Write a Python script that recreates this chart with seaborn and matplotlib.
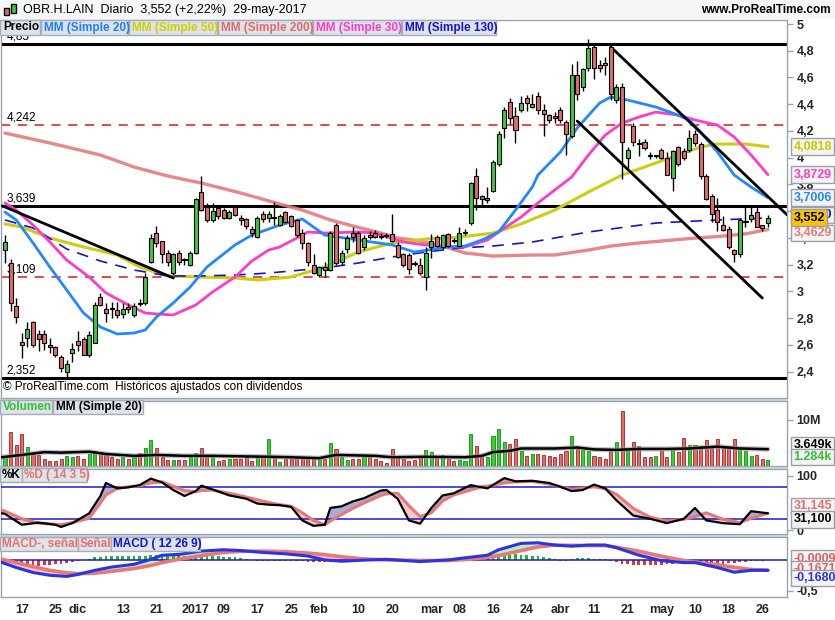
import numpy as np
import pandas as pd
import matplotlib
matplotlib.use("Agg")
import matplotlib.pyplot as plt
import seaborn as sns
from matplotlib.patches import Rectangle

sns.set_style("white")
plt.rcParams['font.family'] = ['Liberation Sans', 'DejaVu Sans']

# ---------------- data ----------------
trade_start, trade_end = "2016-11-14", "2017-05-29"
market_holidays = ["2016-12-26", "2017-04-14", "2017-04-17", "2017-05-01"]

open_ = [3.31, 3.21, 2.89, 2.62, 2.65, 2.77, 2.68, 2.68, 2.595, 2.58,
         2.51, 2.40, 2.54, 2.63, 2.64, 2.52, 2.61, 2.96, 2.87, 2.875,
         2.86, 2.83, 2.885, 2.82, 2.915, 2.91, 3.22, 3.44, 3.38, 3.29,
         3.14, 3.29, 3.245, 3.20, 3.29, 3.74, 3.63, 3.53, 3.62, 3.61,
         3.55, 3.63, 3.55, 3.54, 3.47, 3.41, 3.58, 3.55, 3.555, 3.50,
         3.59, 3.56, 3.53, 3.44, 3.36, 3.20, 3.12, 3.18, 3.16, 3.50,
         3.22, 3.32, 3.44, 3.44, 3.33, 3.42, 3.44, 3.415, 3.425, 3.43,
         3.35, 3.28, 3.27, 3.215, 3.20, 3.11, 3.33, 3.41, 3.33, 3.43,
         3.385, 3.34, 3.435, 3.51, 3.86, 3.71, 3.685, 3.75, 3.95, 4.22,
         4.42, 4.31, 4.36, 4.45, 4.38, 4.46, 4.36, 4.32, 4.31, 4.36,
         4.27, 4.16, 4.62, 4.53, 4.67, 4.83, 4.69, 4.705, 4.83, 4.43,
         4.53, 4.00, 4.24, 4.105, 4.12, 4.02, 4.01, 4.06, 4.00, 3.85,
         4.08, 4.05, 4.06, 4.18, 4.10, 3.86, 3.71, 3.61, 3.50, 3.47,
         3.31, 3.28, 3.52, 3.54, 3.59, 3.50, 3.51]
high = [3.42, 3.24, 2.95, 2.69, 2.77, 2.78, 2.71, 2.71, 2.65, 2.59,
        2.52, 2.49, 2.61, 2.70, 2.66, 2.70, 2.92, 2.99, 2.91, 2.92,
        2.92, 2.91, 2.91, 2.91, 2.94, 3.14, 3.43, 3.49, 3.38, 3.31,
        3.29, 3.31, 3.25, 3.30, 3.70, 3.86, 3.66, 3.66, 3.64, 3.62,
        3.61, 3.64, 3.57, 3.55, 3.49, 3.56, 3.60, 3.60, 3.67, 3.58,
        3.60, 3.57, 3.54, 3.47, 3.37, 3.28, 3.19, 3.22, 3.45, 3.51,
        3.31, 3.42, 3.48, 3.45, 3.42, 3.45, 3.46, 3.44, 3.44, 3.58,
        3.37, 3.29, 3.29, 3.23, 3.25, 3.33, 3.43, 3.42, 3.43, 3.44,
        3.40, 3.48, 3.47, 3.82, 3.92, 3.72, 3.78, 3.98, 4.20, 4.38,
        4.45, 4.38, 4.46, 4.47, 4.48, 4.49, 4.40, 4.33, 4.34, 4.38,
        4.28, 4.70, 4.72, 4.67, 4.89, 4.86, 4.73, 4.75, 4.83, 4.55,
        4.56, 4.08, 4.26, 4.14, 4.14, 4.04, 4.02, 4.07, 4.04, 4.06,
        4.09, 4.07, 4.21, 4.21, 4.12, 3.88, 3.73, 3.70, 3.56, 3.49,
        3.32, 3.54, 3.63, 3.63, 3.63, 3.50, 3.57]
low = [3.21, 2.85, 2.76, 2.50, 2.58, 2.58, 2.55, 2.56, 2.54, 2.51,
       2.40, 2.35, 2.47, 2.55, 2.52, 2.51, 2.61, 2.89, 2.77, 2.80,
       2.80, 2.80, 2.84, 2.81, 2.89, 2.90, 3.21, 3.33, 3.21, 3.19,
       3.12, 3.20, 3.20, 3.19, 3.28, 3.60, 3.52, 3.52, 3.54, 3.54,
       3.54, 3.56, 3.50, 3.47, 3.41, 3.40, 3.52, 3.52, 3.50, 3.49,
       3.51, 3.48, 3.41, 3.32, 3.19, 3.13, 3.11, 3.11, 3.15, 3.20,
       3.20, 3.29, 3.37, 3.28, 3.31, 3.39, 3.40, 3.39, 3.40, 3.37,
       3.25, 3.18, 3.13, 3.19, 3.12, 3.01, 3.25, 3.33, 3.32, 3.33,
       3.36, 3.33, 3.42, 3.50, 3.61, 3.63, 3.66, 3.74, 3.94, 4.15,
       4.25, 4.11, 4.34, 4.35, 4.37, 4.33, 4.16, 4.26, 4.26, 4.26,
       4.02, 4.15, 4.43, 4.50, 4.65, 4.59, 4.64, 4.62, 4.43, 4.41,
       3.84, 3.92, 4.09, 4.01, 4.06, 3.99, 4.00, 3.99, 3.87, 3.75,
       3.94, 3.98, 4.04, 4.09, 3.84, 3.68, 3.52, 3.45, 3.45, 3.32,
       3.22, 3.26, 3.48, 3.52, 3.48, 3.45, 3.48]
close = [3.37, 2.91, 2.81, 2.60, 2.72, 2.60, 2.64, 2.61, 2.585, 2.52,
         2.43, 2.46, 2.57, 2.60, 2.52, 2.67, 2.90, 2.90, 2.84, 2.865,
         2.82, 2.87, 2.87, 2.89, 2.905, 3.11, 3.40, 3.36, 3.28, 3.22,
         3.28, 3.22, 3.235, 3.29, 3.69, 3.61, 3.53, 3.60, 3.56, 3.55,
         3.59, 3.57, 3.53, 3.49, 3.44, 3.55, 3.54, 3.58, 3.545, 3.56,
         3.52, 3.49, 3.42, 3.36, 3.22, 3.14, 3.18, 3.16, 3.44, 3.21,
         3.29, 3.40, 3.41, 3.29, 3.40, 3.41, 3.41, 3.405, 3.415, 3.38,
         3.26, 3.20, 3.17, 3.205, 3.14, 3.29, 3.38, 3.34, 3.42, 3.34,
         3.375, 3.44, 3.445, 3.81, 3.70, 3.69, 3.695, 3.97, 4.18, 4.36,
         4.30, 4.21, 4.41, 4.41, 4.40, 4.36, 4.33, 4.28, 4.30, 4.28,
         4.18, 4.62, 4.48, 4.66, 4.82, 4.67, 4.67, 4.695, 4.48, 4.53,
         4.12, 4.06, 4.12, 4.10, 4.07, 4.01, 4.02, 4.00, 3.87, 4.05,
         3.95, 4.00, 4.15, 4.11, 3.86, 3.69, 3.58, 3.52, 3.46, 3.33,
         3.28, 3.53, 3.525, 3.57, 3.48, 3.475, 3.552]
volume_m = [1.85, 7.3, 4.6, 7.0, 4.2, 2.6, 2.4, 1.5, 1.1, 1.1,
            1.6, 2.1, 1.9, 2.1, 1.5, 2.6, 3.3, 2.8, 2.8, 1.9,
            1.6, 1.9, 1.5, 1.9, 2.8, 3.9, 5.6, 3.9, 1.9, 1.3,
            1.3, 1.3, 1.3, 1.9, 2.8, 3.9, 2.4, 2.2, 1.1, 1.3,
            1.5, 1.5, 1.6, 1.9, 1.1, 1.9, 1.9, 5.8, 1.9, 0.9,
            1.5, 1.6, 1.9, 1.9, 1.9, 1.9, 1.5, 1.6, 5.0, 3.6,
            1.9, 1.3, 1.5, 1.5, 1.9, 2.1, 1.5, 1.1, 0.7, 3.7,
            1.9, 1.5, 1.1, 1.3, 1.9, 3.5, 3.1, 1.9, 2.4, 1.6,
            1.1, 1.3, 1.1, 7.0, 4.4, 1.9, 2.0, 6.5, 8.1, 5.2,
            4.8, 5.8, 3.3, 2.2, 2.6, 2.6, 2.4, 2.2, 1.9, 2.6,
            3.3, 6.4, 3.7, 3.5, 3.3, 2.2, 1.9, 1.5, 3.3, 5.3,
            12.0, 3.7, 5.2, 4.4, 1.9, 2.0, 2.2, 3.3, 2.0, 3.9,
            3.0, 6.1, 4.6, 4.6, 4.4, 5.7, 4.1, 5.9, 4.1, 3.9,
            5.9, 3.7, 3.3, 2.2, 2.4, 1.6, 1.284]

# moving averages (bar index, value)
ma20_pos = [0, 2, 5, 8, 11, 14, 17, 20, 23, 25, 27, 30, 33, 36, 41, 44, 49, 53, 55, 57,
            63, 69, 73, 79, 82, 85, 88, 91, 94, 95, 99, 102, 106, 108, 111, 116, 119, 122,
            124, 127, 130, 133, 136]
ma20_val = [3.593, 3.534, 3.362, 3.182, 3.010, 2.838, 2.733, 2.681, 2.688, 2.711, 2.808,
            2.913, 3.032, 3.182, 3.347, 3.421, 3.496, 3.541, 3.481, 3.421, 3.384, 3.347,
            3.294, 3.332, 3.339, 3.384, 3.444, 3.608, 3.780, 3.870, 4.042, 4.222, 4.409,
            4.454, 4.431, 4.379, 4.334, 4.282, 4.192, 4.042, 3.870, 3.780, 3.7006]
ma30_pos = [0, 2, 5, 8, 11, 15, 18, 22, 25, 27, 30, 34, 37, 41, 44, 47, 49, 53, 54, 57,
            63, 66, 71, 75, 80, 82, 86, 88, 92, 95, 101, 104, 107, 110, 113, 116, 120,
            123, 127, 130, 133, 136]
ma30_val = [3.661, 3.608, 3.496, 3.369, 3.234, 3.107, 2.988, 2.898, 2.838, 2.831, 2.823,
            2.898, 2.995, 3.107, 3.227, 3.309, 3.332, 3.421, 3.444, 3.436, 3.444, 3.436,
            3.369, 3.347, 3.332, 3.332, 3.384, 3.444, 3.556, 3.661, 3.855, 4.020, 4.169,
            4.259, 4.304, 4.341, 4.319, 4.282, 4.244, 4.154, 4.020, 3.8729]
ma50_pos = [0, 3, 8, 14, 20, 24, 29, 35, 41, 45, 51, 57, 63, 69, 75, 81, 87, 92, 98,
            104, 110, 116, 120, 124, 127, 132, 136]
ma50_val = [3.504, 3.481, 3.399, 3.332, 3.272, 3.182, 3.115, 3.107, 3.100, 3.085, 3.107,
            3.182, 3.294, 3.362, 3.391, 3.406, 3.436, 3.504, 3.608, 3.743, 3.870, 3.960,
            4.020, 4.080, 4.102, 4.102, 4.0818]
ma130_pos = [0, 5, 11, 17, 23, 29, 35, 41, 47, 57, 63, 69, 75, 81, 87, 94, 104, 116, 127, 136]
ma130_val = [3.534, 3.474, 3.317, 3.227, 3.160, 3.115, 3.115, 3.122, 3.137, 3.175, 3.212,
             3.257, 3.294, 3.324, 3.339, 3.369, 3.444, 3.511, 3.534, 3.549]
ma200_pos = [0, 8, 17, 23, 29, 35, 42, 49, 53, 58, 62, 67, 70, 74, 78, 82, 87, 94, 98,
             104, 108, 113, 118, 122, 127, 132, 136]
ma200_val = [4.184, 4.110, 4.020, 3.930, 3.863, 3.810, 3.736, 3.653, 3.608, 3.534, 3.489,
             3.436, 3.399, 3.377, 3.339, 3.287, 3.264, 3.272, 3.272, 3.309, 3.339, 3.362,
             3.380, 3.395, 3.410, 3.430, 3.4629]

# support / resistance levels and trend lines
level_solid = [4.85, 3.639, 2.352]
level_dashed = [4.242, 3.109]
trend_lines = [((-0.5, 3.64), (30, 3.10)),
               ((108, 4.828), (139.4, 3.573)),
               ((102, 4.274), (135, 2.95))]

# volume moving average 20
vma_pos = [-1, 3, 7, 10, 15, 18, 23, 27, 32, 37, 42, 47, 51, 56, 59, 66, 69, 75, 82,
           85, 87, 90, 92, 98, 102, 105, 109, 113, 118, 122, 127, 131, 136]
vma_val = [1.85, 2.4, 3.0, 2.9, 3.1, 2.6, 2.2, 2.4, 2.2, 2.2, 2.1, 2.0, 1.9, 1.7, 2.4,
           2.2, 1.9, 2.0, 1.9, 2.2, 3.0, 3.3, 3.8, 3.8, 4.0, 3.6, 3.5, 3.7, 3.7, 3.8,
           4.2, 3.8, 3.649]

# stochastic %K / %D (14 3 5)
sto_pos = [-1, 0, 3, 6, 9, 10, 12, 15, 17, 18, 20, 22, 24, 26, 28, 30, 32, 34, 35, 37,
           40, 43, 45, 47, 49, 51, 53, 55, 57, 58, 60, 62, 64, 67, 68, 70, 72, 74, 76,
           78, 80, 83, 85, 86, 89, 91, 94, 97, 99, 101, 103, 105, 107, 109, 112, 115,
           118, 121, 123, 125, 128, 131, 133, 136]
sto_k = [32, 30, 10, 14, 10, 6, 13, 31, 63, 87, 77, 79, 83, 95, 88, 74, 63, 72, 82, 75,
         64, 58, 49, 47, 46, 43, 18, 8, 10, 41, 44, 53, 59, 73, 74, 58, 18, 12, 41,
         64, 68, 83, 79, 77, 96, 90, 91, 87, 80, 72, 74, 84, 77, 55, 27, 21,
         13, 21, 41, 18, 13, 11, 35, 31.1]
sto_d = [38, 35, 21, 13, 11, 10, 14, 22, 50, 65, 77, 80, 82, 87, 89, 81, 73, 71, 73, 74,
         68, 61, 56, 51, 47, 44, 32, 18, 10, 17, 29, 40, 50, 64, 67, 68, 45, 25, 32,
         54, 65, 74, 80, 81, 87, 89, 90, 85, 80, 75, 77, 80, 76, 66, 40, 24,
         17, 20, 25, 32, 20, 14, 22, 31.145]

# MACD (12 26 9)
macd_pos = [-1, 2, 5, 8, 11, 13, 16, 19, 23, 26, 28, 31, 35, 39, 42, 46, 50, 54, 57, 60,
            64, 68, 74, 79, 83, 86, 88, 92, 95, 98, 101, 104, 107, 109, 113, 117, 121,
            123, 127, 130, 133, 136]
macd_line = [-0.027, -0.124, -0.204, -0.249, -0.267, -0.236, -0.169, -0.116, -0.071, 0.009,
             0.076, 0.089, 0.142, 0.164, 0.151, 0.120, 0.098, 0.062, 0.0, -0.022,
             -0.004, 0.009, -0.027, 0.0, 0.044, 0.076, 0.164, 0.267, 0.276, 0.240,
             0.222, 0.240, 0.240, 0.196, 0.076, -0.013, -0.044, -0.044, -0.124, -0.200,
             -0.169, -0.168]
macd_signal = [0.018, -0.044, -0.11, -0.17, -0.21, -0.222, -0.215, -0.185, -0.14, -0.09,
               -0.044, 0.01, 0.07, 0.12, 0.138, 0.142, 0.133, 0.11, 0.085, 0.05,
               0.015, 0.0, -0.01, -0.01, 0.012, 0.04, 0.07, 0.15, 0.21, 0.238,
               0.235, 0.231, 0.231, 0.205, 0.14, 0.06, -0.01, -0.035, -0.08, -0.12,
               -0.155, -0.1671]
macd_hist = [-0.03, -0.05, -0.07, -0.08, -0.09, -0.10, -0.10, -0.09, -0.08, -0.07,
             -0.06, -0.05, -0.04, -0.02, -0.005, 0.02, 0.04, 0.05, 0.06, 0.065,
             0.065, 0.065, 0.065, 0.065, 0.07, 0.07, 0.08, 0.08, 0.085, 0.085,
             0.08, 0.075, 0.07, 0.07, 0.07, 0.07, 0.065, 0.06, 0.06, 0.05,
             0.05, 0.04, 0.03, 0.02, 0.005, -0.01, -0.01, -0.015, -0.015, -0.015,
             -0.02, -0.02, -0.02, -0.025, -0.03, -0.035, -0.04, -0.04, -0.035, -0.03,
             -0.02, -0.015, -0.01, -0.01, -0.005, -0.005, 0.0, -0.005, -0.005, -0.005,
             -0.01, -0.01, -0.01, -0.005, -0.005, 0.0, 0.005, 0.01, 0.01, 0.015,
             0.015, 0.02, 0.02, 0.03, 0.04, 0.045, 0.05, 0.06, 0.07, 0.08,
             0.085, 0.09, 0.085, 0.08, 0.07, 0.06, 0.05, 0.03, 0.02, -0.01,
             -0.02, 0.02, 0.025, 0.03, 0.025, 0.02, 0.015, 0.01, -0.02, -0.04,
             -0.06, -0.07, -0.08, -0.085, -0.09, -0.09, -0.085, -0.08, -0.07, -0.06,
             -0.055, -0.05, -0.06, -0.065, -0.07, -0.07, -0.075, -0.07, -0.06, -0.05,
             -0.045, -0.04, -0.03, -0.02, -0.015, -0.01, -0.0009]

tick_dates = ["2016-11-17", "2016-11-25", "2016-12-01", "2016-12-13", "2016-12-21",
              "2017-01-02", "2017-01-09", "2017-01-17", "2017-01-25", "2017-02-01",
              "2017-02-10", "2017-02-20", "2017-03-01", "2017-03-08", "2017-03-16",
              "2017-03-24", "2017-04-03", "2017-04-11", "2017-04-21", "2017-05-02",
              "2017-05-10", "2017-05-18", "2017-05-26"]
tick_labels = ["17", "25", "dic", "13", "21", "2017", "09", "17", "25", "feb", "10", "20",
               "mar", "08", "16", "24", "abr", "11", "21", "may", "10", "18", "26"]
price_ticks = [2.4, 2.6, 2.8, 3.0, 3.2, 3.4, 3.6, 3.8, 4.0, 4.2, 4.4, 4.6, 4.8, 5.0]

# ---------------- helpers ----------------
W, H = 835, 620
dates = pd.bdate_range(trade_start, trade_end)
dates = dates[~dates.isin(pd.to_datetime(market_holidays))]
n = len(close)
idx = np.arange(n)
o = np.array(open_); c = np.array(close); hi = np.array(high); lo = np.array(low)
up = c >= o
tick_pos = [int(np.where(dates == pd.Timestamp(d))[0][0]) for d in tick_dates]

fig = plt.figure(figsize=(W / 100, H / 100), dpi=100, facecolor='white')

def px_axes(x0, y0, x1, y1):
    return fig.add_axes([x0 / W, 1 - y1 / H, (x1 - x0) / W, (y1 - y0) / H])

def fmt(v, d):
    return f"{v:.{d}f}".replace('.', ',')

XL = (-0.71, 139.4)
EDGE = '#9AA4AE'
GREEN = '#3CCB3C'
RED = '#E26A6A'

for (ya, yb) in [(398, 401), (466, 469), (534, 537)]:
    fig.patches.append(Rectangle((0, 1 - yb / H), 788 / W, (yb - ya) / H, transform=fig.transFigure,
                                 facecolor='#D3D9DF', edgecolor='none', zorder=-5))

def style_axes(ax):
    ax.set_xlim(*XL)
    for s in ax.spines.values():
        s.set_color(EDGE)
        s.set_linewidth(1)
    ax.yaxis.tick_right()
    ax.tick_params(axis='y', which='both', direction='out', length=4, width=1, color=EDGE,
                   labelsize=9, pad=3)
    ax.set_xticks([])
    ax.set_facecolor('white')

# ---------------- price panel ----------------
ax = px_axes(1, 20, 787, 398)
ax.set_ylim(2.202, 5.03)
style_axes(ax)
ax.set_yticks(price_ticks)
ax.set_yticklabels([fmt(v, 0) if abs(v - round(v)) < 1e-9 else fmt(v, 1) for v in price_ticks],
                   fontweight='bold', fontsize=9)

for lv in level_solid:
    ax.axhline(lv, color='black', lw=2.2, zorder=2)
for lv in level_dashed:
    ax.axhline(lv, color='#E01818', lw=1.1, dashes=(6, 5), zorder=2)
for lv, t in zip(level_solid + level_dashed, ["4,85", "3,639", "2,352", "4,242", "3,109"]):
    ax.text(0.3, lv + 0.012, t, fontsize=8.5, ha='left', va='bottom', color='black', zorder=6)

sns.lineplot(x=ma200_pos, y=ma200_val, ax=ax, color='#E57B7B', linewidth=2.4, alpha=0.9, legend=False, zorder=3)
sns.lineplot(x=ma50_pos, y=ma50_val, ax=ax, color='#CDCD12', linewidth=2.2, legend=False, zorder=3)
sns.lineplot(x=ma130_pos, y=ma130_val, ax=ax, color='#1414CC', linewidth=1.2, legend=False, zorder=3)
ax.lines[-1].set_dashes([7, 5])
sns.lineplot(x=ma30_pos, y=ma30_val, ax=ax, color='#FF3CC8', linewidth=2.0, legend=False, zorder=3)
sns.lineplot(x=ma20_pos, y=ma20_val, ax=ax, color='#2288FF', linewidth=2.0, legend=False, zorder=3)

for (p0, p1) in trend_lines:
    ax.plot([p0[0], p1[0]], [p0[1], p1[1]], color='black', lw=2.0, zorder=4)

# candles
ax.vlines(idx, lo, hi, color='black', lw=1.0, zorder=5)
body_bot = np.minimum(o, c)
body_h = np.maximum(np.abs(c - o), 0.008)
ax.bar(idx, body_h, bottom=body_bot, width=0.72, color=np.where(up, GREEN, RED),
       edgecolor='black', linewidth=0.8, zorder=6)

ax.text(0.003, 0.012, "© ProRealTime.com  Históricos ajustados con dividendos", transform=ax.transAxes,
        fontsize=8.5, ha='left', va='bottom', color='black')

# value boxes on the right
def vbox(axis, yval, text, tcolor, fc='#F4F4F4', ec='#9AA0A6', z=10):
    axis.text(1.0085, yval, text, transform=axis.get_yaxis_transform(), ha='left', va='center',
              fontsize=9, fontweight='bold', color=tcolor, clip_on=False, zorder=z,
              bbox=dict(boxstyle='square,pad=0.18', fc=fc, ec=ec, lw=1))

vbox(ax, ma50_val[-1], fmt(ma50_val[-1], 4), '#C9C900')
vbox(ax, ma30_val[-1], fmt(ma30_val[-1], 4), '#FF3CC8')
vbox(ax, ma20_val[-1], fmt(ma20_val[-1], 4), '#2288FF')
vbox(ax, 3.57, fmt(ma130_val[-1], 4), '#1414CC', z=9)
vbox(ax, 3.438, fmt(ma200_val[-1], 4), '#E57B7B')
vbox(ax, close[-1], fmt(close[-1], 3), 'black', fc='#F7C600', ec='#9AA0A6', z=12)

# ---------------- volume panel ----------------
axv = px_axes(1, 401, 787, 466)
axv.set_ylim(0, 14.1)
style_axes(axv)
axv.set_yticks([10])
axv.set_yticklabels(["10M"], fontweight='bold', fontsize=9)
axv.bar(idx, volume_m, width=0.55, color=np.where(up, '#33D033', '#E46A6A'),
        edgecolor=np.where(up, '#168A16', '#A82424'), linewidth=0.6, zorder=3)
sns.lineplot(x=vma_pos, y=vma_val, ax=axv, color='#999999', linewidth=3.6, alpha=0.6, legend=False, zorder=4)
sns.lineplot(x=vma_pos, y=vma_val, ax=axv, color='black', linewidth=1.8, legend=False, zorder=5)
vbox(axv, 4.6, "3.649k", 'black')
vbox(axv, 1.9, "1.284k", '#33C033')

# ---------------- stochastic panel ----------------
axs = px_axes(1, 469, 787, 534)
axs.set_ylim(-7, 112.7)
style_axes(axs)
axs.set_yticks([0, 100])
axs.set_yticklabels(["0", "100"], fontweight='bold', fontsize=9)
sk = np.array(sto_k, float); sd = np.array(sto_d, float); sp = np.array(sto_pos, float)
axs.fill_between(sp, sk, sd, where=sk >= sd, interpolate=True, color='#ABABD8', lw=0, zorder=2)
axs.fill_between(sp, sk, sd, where=sk < sd, interpolate=True, color='#F6C8C8', lw=0, zorder=2)
axs.axhline(80, color='#1A1ACC', lw=1.1, zorder=3)
axs.axhline(20, color='#1A1ACC', lw=1.1, zorder=3)
sns.lineplot(x=sto_pos, y=sto_d, ax=axs, color='#E87878', linewidth=2.2, legend=False, zorder=4)
sns.lineplot(x=sto_pos, y=sto_k, ax=axs, color='black', linewidth=1.6, legend=False, zorder=5)
vbox(axs, 45, "31,145", '#E87070')
vbox(axs, 20, "31,100", 'black')

# ---------------- MACD panel ----------------
axm = px_axes(1, 537, 787, 597)
axm.set_ylim(-0.6, 0.37)
style_axes(axm)
axm.set_yticks([-0.5])
axm.set_yticklabels(["-0,5"], fontweight='bold', fontsize=9)
mh = np.array(macd_hist)
axm.bar(idx, mh, width=0.5, color=np.where(mh >= 0, '#22B822', '#D83A3A'), lw=0, zorder=3)
ml = np.array(macd_line); ms = np.array(macd_signal); mp = np.array(macd_pos, float)
axm.fill_between(mp, ml, ms, where=ml >= ms, interpolate=True, color='#BDEFBD', lw=0, zorder=2)
axm.fill_between(mp, ml, ms, where=ml < ms, interpolate=True, color='#F6C2C2', lw=0, zorder=2)
axm.axhline(0, color='#1A1ACC', lw=1.1, zorder=3)
sns.lineplot(x=macd_pos, y=macd_signal, ax=axm, color='#E87878', linewidth=2.6, legend=False, zorder=4)
sns.lineplot(x=macd_pos, y=macd_line, ax=axm, color='#2A35E0', linewidth=2.2, legend=False, zorder=5)
vbox(axm, 0.02, "-0,0009", '#E06060', z=9)
vbox(axm, -0.15, "-0,1671", '#E06060', z=10)
vbox(axm, -0.29, "-0,1680", '#2A35E0', z=11)
axm.set_xticks(tick_pos)
axm.set_xticklabels(tick_labels, fontweight='bold', fontsize=9)
axm.tick_params(axis='x', length=0, pad=5)
for a in (ax, axv, axs, axm):
    a.set_xlabel(''); a.set_ylabel('')

# ---------------- header & legends ----------------
def fig_box(x0, y0, x1, y1, fc, ec='#A5AEB8', z=5):
    fig.patches.append(Rectangle((x0 / W, 1 - y1 / H), (x1 - x0) / W, (y1 - y0) / H,
                                 transform=fig.transFigure, facecolor=fc, edgecolor=ec, lw=1, zorder=z))

def fig_txt(x, y, s, color='black', size=9, weight='bold', ha='left'):
    fig.text(x / W, 1 - y / H, s, color=color, fontsize=size, fontweight=weight, ha=ha, va='center', zorder=20)

fig_box(0, 0, 835, 19, '#F4F6F8', ec='none', z=1)
fig_box(4, 8, 9, 15, '#E26A6A', ec='black', z=6)
fig_box(11, 4, 16, 13, '#3CCB3C', ec='black', z=6)
fig_txt(23, 10, "OBR.H.LAIN  Diario  3,552 (+2,22%)  29-may-2017", size=9, weight='normal')
fig_txt(831, 10, "www.ProRealTime.com", size=8.5, weight='bold', ha='right')

legend_items = [("Precio", 'black', 0, 40), ("MM (Simple 20)", '#1E80FF', 41, 128),
                ("MM (Simple 50)", '#CFCF00', 129, 217), ("MM (Simple 200)", '#E06A6A', 218, 312),
                ("MM (Simple 30)", '#FF3CC8', 313, 401), ("MM (Simple 130)", '#1414CC', 402, 496)]
for t, col, xa, xb in legend_items:
    fig_box(xa, 20, xb, 35, '#DDE3E9')
    fig_txt(xa + 3, 27.5, t, color=col, size=8.5)

for t, col, xa, xb in [("Volumen", '#33C033', 0, 52), ("MM (Simple 20)", 'black', 53, 143)]:
    fig_box(xa, 400, xb, 414, '#DDE3E9')
    fig_txt(xa + 3, 407, t, color=col, size=8.5, weight='bold')
for t, col, xa, xb in [("%K", 'black', 0, 22), ("%D ( 14 3 5)", '#E87070', 22, 87)]:
    fig_box(xa, 468, xb, 482, '#DDE3E9')
    fig_txt(xa + 2, 475, t, color=col, size=8.5, weight='bold')
for t, col, xa, xb in [("MACD-, señal", '#E87070', 0, 78), ("Señal", '#E87070', 78, 111),
                       ("MACD ( 12 26 9)", '#1414CC', 111, 200)]:
    fig_box(xa, 537, xb, 551, '#DDE3E9')
    fig_txt(xa + 2, 544, t, color=col, size=8.5, weight='bold')

fig.savefig("out.png", dpi=100, facecolor='white')
